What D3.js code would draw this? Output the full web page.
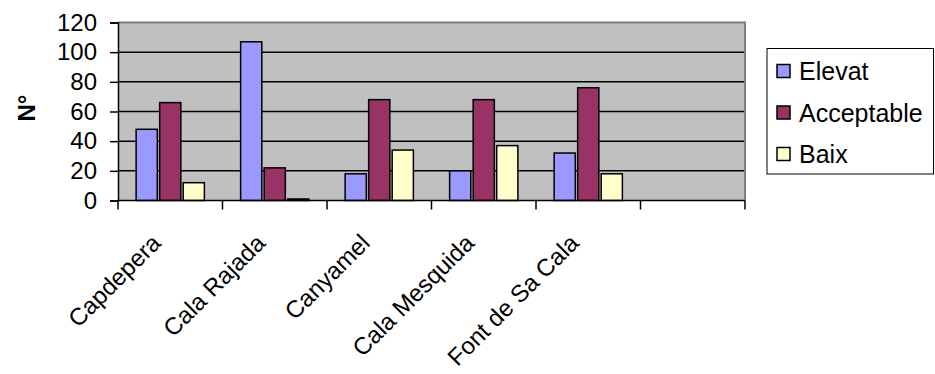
<!DOCTYPE html>
<html>
<head>
<meta charset="utf-8">
<script src="https://cdn.jsdelivr.net/npm/d3@7"></script>
<style>
  html, body { margin: 0; padding: 0; background: #ffffff; }
  svg { display: block; font-family: "Liberation Sans", Arial, sans-serif; }
</style>
</head>
<body>
<svg id="chart" width="935" height="374"></svg>
<script>
const categories = ["Capdepera", "Cala Rajada", "Canyamel", "Cala Mesquida", "Font de Sa Cala", ""];
const series = ["Elevat", "Acceptable", "Baix"];
const elevat = [48, 107, 18, 20, 32, null];
const acceptable = [66, 22, 68, 68, 76, null];
const baix = [12, 1, 34, 37, 18, null];
const yTicks = [0, 20, 40, 60, 80, 100, 120];
const colors = ["#9999FF", "#993366", "#FFFFCC"];
const yTitle = "N°";

const seriesValues = [elevat, acceptable, baix];

const svg = d3.select("#chart");
const plot = { left: 118, top: 22.5, right: 745, bottom: 200.5 };

const x0 = d3.scaleBand().domain(categories).range([plot.left, plot.right]).paddingInner(0).paddingOuter(0);
const x1 = d3.scaleBand().domain(series).range([0, x0.bandwidth()]).paddingInner(0.1).paddingOuter(0.77);
const y = d3.scaleLinear().domain([0, 120]).range([plot.bottom, plot.top]);
const color = d3.scaleOrdinal().domain(series).range(colors);

// plot background
svg.append("rect")
  .attr("x", plot.left).attr("y", plot.top)
  .attr("width", plot.right - plot.left).attr("height", plot.bottom - plot.top)
  .attr("fill", "#C0C0C0");

// gridlines
svg.append("g").selectAll("line")
  .data(yTicks.filter(v => v > 0 && v < 120))
  .join("line")
  .attr("x1", plot.left).attr("x2", plot.right)
  .attr("y1", d => y(d)).attr("y2", d => y(d))
  .attr("stroke", "#000").attr("stroke-width", 1.5);

// plot border top & right (gray)
svg.append("path")
  .attr("d", `M${plot.left},${y(120)}H${plot.right}V${plot.bottom}`)
  .attr("fill", "none").attr("stroke", "#808080").attr("stroke-width", 2);

// bars
const rows = categories.map((c, i) => ({ cat: c, vals: series.map((s, j) => ({ s, v: seriesValues[j][i] })) }));
svg.append("g").selectAll("g")
  .data(rows)
  .join("g")
  .attr("transform", d => `translate(${x0(d.cat)},0)`)
  .selectAll("rect")
  .data(d => d.vals.filter(v => v.v != null))
  .join("rect")
  .attr("x", d => x1(d.s))
  .attr("width", x1.bandwidth())
  .attr("y", d => y(d.v))
  .attr("height", d => y(0) - y(d.v))
  .attr("fill", d => color(d.s))
  .attr("stroke", "#000").attr("stroke-width", 1.5);

// y axis
const yAxis = svg.append("g")
  .attr("transform", `translate(${plot.left},0)`)
  .call(d3.axisLeft(y).tickValues(yTicks).tickSize(8).tickPadding(13).tickFormat(d3.format("d")));
yAxis.select(".domain").attr("stroke", "#000").attr("stroke-width", 1.5);
yAxis.selectAll(".tick line").attr("stroke", "#000").attr("stroke-width", 1.5);
yAxis.selectAll(".tick text").attr("font-size", 24).attr("fill", "#000")
  .attr("font-family", "'Liberation Sans', Arial, sans-serif");

// x axis line
svg.append("line")
  .attr("x1", plot.left).attr("x2", plot.right)
  .attr("y1", y(0)).attr("y2", y(0))
  .attr("stroke", "#000").attr("stroke-width", 1.5);

// x axis boundary ticks
const boundaries = categories.map(c => x0(c)).concat([x0.range()[1]]);
svg.append("g").selectAll("line")
  .data(boundaries)
  .join("line")
  .attr("x1", d => d).attr("x2", d => d)
  .attr("y1", y(0)).attr("y2", y(0) + 9)
  .attr("stroke", "#000").attr("stroke-width", 1.5);

// x category labels
svg.append("g").selectAll("text")
  .data(categories.filter(c => c !== ""))
  .join("text")
  .attr("transform", d => `translate(${x0(d) + x0.bandwidth() / 2 - 8},${y(0) + 44}) rotate(-45)`)
  .attr("text-anchor", "end")
  .attr("font-size", 24)
  .attr("fill", "#000")
  .text(d => d);

// y title
svg.append("text")
  .attr("transform", `translate(35,108) rotate(-90)`)
  .attr("text-anchor", "middle")
  .attr("font-size", 24)
  .attr("font-weight", "bold")
  .attr("fill", "#000")
  .text(yTitle);

// legend
const legend = svg.append("g");
legend.append("rect")
  .attr("x", 767).attr("y", 48.5).attr("width", 166.5).attr("height", 125.5)
  .attr("fill", "#fff").attr("stroke", "#000").attr("stroke-width", 1);
const legendY = d3.scalePoint().domain(series).range([71, 154]);
const items = legend.selectAll("g.item").data(series).join("g").attr("class", "item")
  .attr("transform", d => `translate(777,${legendY(d)})`);
items.append("rect")
  .attr("x", 0).attr("y", -6.5).attr("width", 13).attr("height", 13)
  .attr("fill", d => color(d)).attr("stroke", "#000").attr("stroke-width", 1.5);
items.append("text")
  .attr("x", 22).attr("y", 0).attr("dy", "0.36em")
  .attr("font-size", 25).attr("fill", "#000")
  .text(d => d);
</script>
</body>
</html>
